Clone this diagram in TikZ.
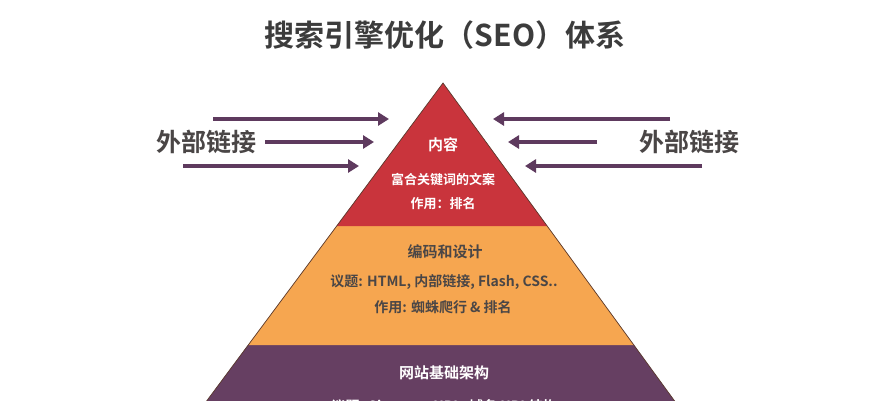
\documentclass[tikz,border=0pt]{standalone}
\usepackage{fontspec}
\setmainfont{Noto Sans CJK SC}
\newfontfamily\cjkb{Noto Sans CJK SC Bold}
\usetikzlibrary{arrows.meta}
\definecolor{redL}{HTML}{C9343C}
\definecolor{orgL}{HTML}{F6A650}
\definecolor{purL}{HTML}{663F62}
\definecolor{arrC}{HTML}{5E3A5E}
\definecolor{txtD}{HTML}{3C3C3C}
\definecolor{txtO}{HTML}{4A4646}
\definecolor{edgeC}{HTML}{5A3A2E}
\tikzset{
  x=1pt, y=-1pt,
  extarrow/.style={draw=arrC, line width=3.6pt, -{Triangle[length=11pt,width=13pt]}},
  sidelabel/.style={font=\cjkb\fontsize{25}{25}\selectfont, text=txtO, inner sep=0pt},
  whitetxt/.style={font=\cjkb\fontsize{13}{13}\selectfont, text=white, inner sep=0pt},
  whitehead/.style={font=\cjkb\fontsize{15}{15}\selectfont, text=white, inner sep=0pt},
  darktxt/.style={font=\cjkb\fontsize{14}{14}\selectfont, text=txtO, inner sep=0pt},
  layeredge/.style={draw=edgeC, line width=0.7pt}
}
\begin{document}
\begin{tikzpicture}
\useasboundingbox (0,0) rectangle (889,400);
\clip (0,0) rectangle (889,400);
\fill[white] (0,0) rectangle (889,400);
% layers
\coordinate (apex) at (443,83);
\coordinate (r1l) at (336.5,226);
\coordinate (r1r) at (547.4,226);
\coordinate (r2l) at (248,345);
\coordinate (r2r) at (634,345);
\coordinate (r3l) at (194,418);
\coordinate (r3r) at (687,418);
\fill[purL] (r2l) -- (r2r) -- (r3r) -- (r3l) -- cycle;
\fill[orgL] (r1l) -- (r1r) -- (r2r) -- (r2l) -- cycle;
\fill[redL] (apex) -- (r1r) -- (r1l) -- cycle;
\draw[layeredge] (r3l) -- (apex) -- (r3r);
% title
\node[font=\cjkb\fontsize{30}{30}\selectfont, text=txtD, inner sep=0pt] (title) at (445,35) {搜索引擎优化（SEO）体系};
% side labels
\node[sidelabel] (lblL) at (206,142) {外部链接};
\node[sidelabel] (lblR) at (689,142) {外部链接};
% arrows left
\coordinate (la1s) at (213,119); \coordinate (la1e) at (389,119);
\coordinate (la2s) at (265,142); \coordinate (la2e) at (374,142);
\coordinate (la3s) at (183,166); \coordinate (la3e) at (359,166);
\draw[extarrow] (la1s) -- (la1e);
\draw[extarrow] (la2s) -- (la2e);
\draw[extarrow] (la3s) -- (la3e);
% arrows right
\coordinate (ra1s) at (670,119); \coordinate (ra1e) at (493,119);
\coordinate (ra2s) at (597,142); \coordinate (ra2e) at (508,142);
\coordinate (ra3s) at (702,166); \coordinate (ra3e) at (525,166);
\draw[extarrow] (ra1s) -- (ra1e);
\draw[extarrow] (ra2s) -- (ra2e);
\draw[extarrow] (ra3s) -- (ra3e);
% red layer text
\node[whitehead] (c1) at (443,145) {内容};
\node[whitetxt] (c2) at (443,180) {富合关键词的文案};
\node[whitetxt] (c3) at (443,204) {作用：排名};
% orange layer text
\node[darktxt, font=\cjkb\fontsize{15}{15}\selectfont] (o1) at (445,252) {编码和设计};
\node[darktxt] (o2) at (444,282) {议题: HTML, 内部链接, Flash, CSS..};
\node[darktxt] (o3) at (443,307) {作用: 蜘蛛爬行 \& 排名};
% purple layer text
\node[whitehead] (p1) at (444,373) {网站基础架构};
\node[whitetxt, font=\cjkb\fontsize{14}{14}\selectfont] (p2) at (444,407) {议题: Sitemap, URL, 域名 URL结构};
\end{tikzpicture}
\end{document}
